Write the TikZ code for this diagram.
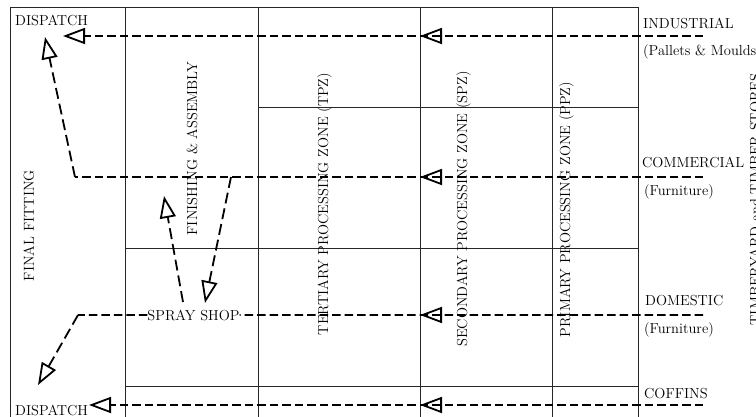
\documentclass[tikz,border=0pt]{standalone}
\usetikzlibrary{arrows.meta,decorations.markings}
\begin{document}
\begin{tikzpicture}[x=1pt,y=-1pt,
  frame/.style={line width=0.9pt,draw=black!85},
  flow/.style={line width=1.8pt,dash pattern=on 8.5pt off 4pt},
  slant/.style={line width=1.8pt,dash pattern=on 11pt off 5pt},
  tip/.style={-{Triangle[open,length=22pt,width=16pt]}},
  midtip/.style={postaction={decorate},decoration={markings,mark=at position 283pt with {\arrow{Triangle[open,length=22pt,width=16pt]}}}},
  lab/.style={inner sep=0pt,font=\fontsize{14.5}{17}\selectfont},
  vlab/.style={lab,rotate=90,anchor=base}]
\useasboundingbox (0,0) rectangle (756,416);
\clip (0,0) rectangle (756,416);
% frame
\draw[frame] (10,7) -- (638,7);
\foreach \x in {10,125,258,420,552,638} \draw[frame] (\x,7) -- (\x,420);
\draw[frame] (258,107) -- (638,107);
\draw[frame] (125,248) -- (638,248);
\draw[frame] (125,386) -- (638,386);
% labels
\node[lab,anchor=base west] (dispT) at (15,25) {DISPATCH};
\node[lab,anchor=base west] (dispB) at (15,415.5) {DISPATCH};
\node[lab,anchor=base west] (ind) at (643,28) {INDUSTRIAL};
\node[lab,anchor=base west] (pal) at (643,55) {(Pallets \& Moulds)};
\node[lab,anchor=base west] (com) at (642,167) {COMMERCIAL};
\node[lab,anchor=base west] (furn1) at (644,195) {(Furniture)};
\node[lab,anchor=base west] (dom) at (645,305) {DOMESTIC};
\node[lab,anchor=base west] (furn2) at (644,333) {(Furniture)};
\node[lab,anchor=base west] (cof) at (644,398) {COFFINS};
\node[vlab] (ff) at (34,225.5) {FINAL FITTING};
\node[vlab] (fa) at (197,148.5) {FINISHING \& ASSEMBLY};
\node[vlab] (tpz) at (328,204) {TERTIARY PROCESSING ZONE (TPZ)};
\node[vlab] (spz) at (467,209) {SECONDARY PROCESSING ZONE (SPZ)};
\node[vlab] (ppz) at (570,209.5) {PRIMARY PROCESSING ZONE (PPZ)};
\node[vlab] (tim) at (760,199.5) {TIMBERYARD and TIMBER STORES};
\node[lab,anchor=base] (spray) at (193.5,320) {SPRAY SHOP};
% flow coordinates
\coordinate (indR) at (703,36); \coordinate (indL) at (63,36);
\coordinate (comR) at (703,177); \coordinate (comK) at (75,177); \coordinate (comT) at (45,37);
\coordinate (domR) at (703,315); \coordinate (domK) at (78,315); \coordinate (domT) at (38,385);
\coordinate (cofR) at (703,405); \coordinate (cofL) at (89,405);
\coordinate (spUpS) at (183,302); \coordinate (spUpT) at (164,196);
\coordinate (spDnS) at (231,177); \coordinate (spDnT) at (205,303);
% flows
\draw[flow,midtip,tip] (indR) -- (indL);
\draw[flow,midtip] (comR) -- (comK);
\draw[slant,tip] (comK) -- (comT);
\draw[flow,midtip] (domR) -- (spray.east);
\draw[flow] (spray.west) -- (domK);
\draw[slant,tip] (domK) -- (domT);
\draw[flow,midtip,tip] (cofR) -- (cofL);
\draw[slant,tip] (spUpS) -- (spUpT);
\draw[slant,tip] (spDnS) -- (spDnT);
\end{tikzpicture}
\end{document}
